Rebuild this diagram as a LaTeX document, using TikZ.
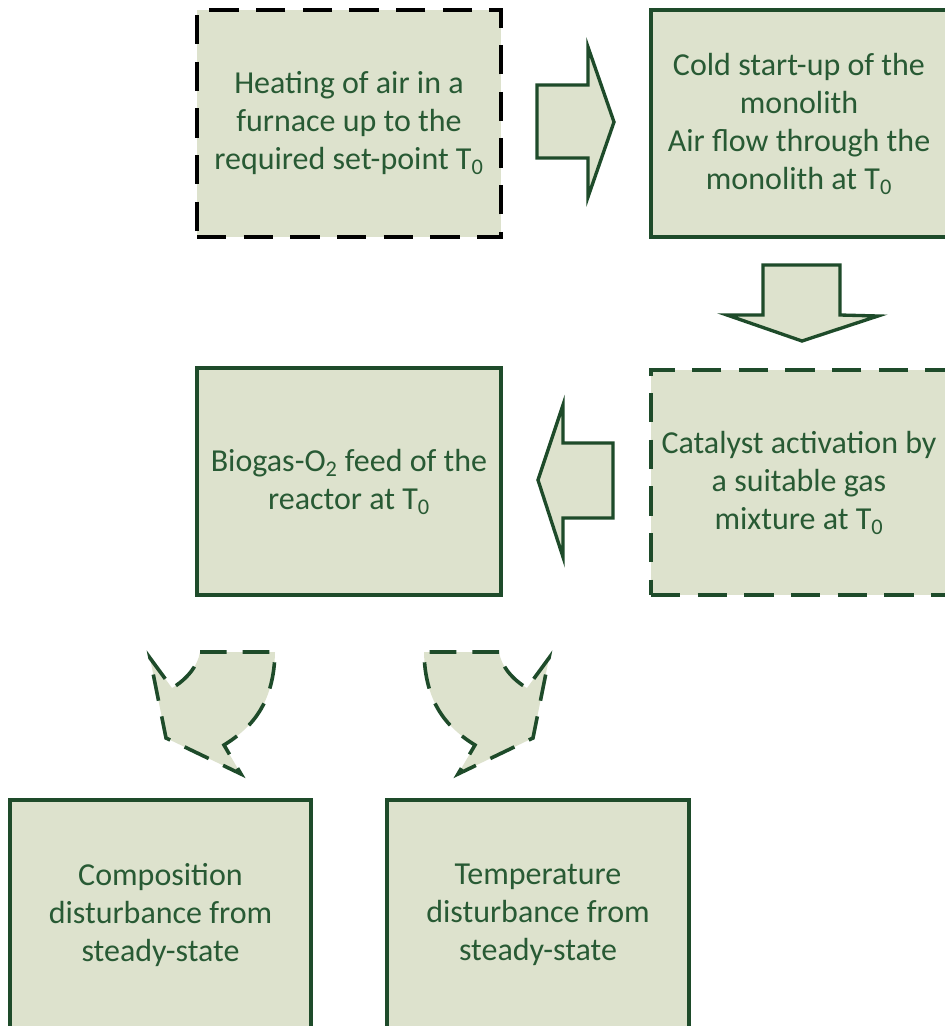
\documentclass[tikz,border=0pt]{standalone}
\usepackage{fontspec}
\setmainfont{Carlito}
\definecolor{boxfill}{RGB}{221,226,205}
\definecolor{boxline}{RGB}{30,75,42}
\definecolor{txt}{RGB}{40,90,52}
\tikzset{
  flowbox/.style={fill=boxfill, draw=boxline, line width=2.7pt, align=center,
    text=txt, font=\fontsize{24}{28.5}\selectfont, inner sep=0pt},
  dashbox/.style={flowbox, dash pattern=on 22pt off 13pt},
  blockarrow/.style={fill=boxfill, draw=boxline, line width=2.5pt, line join=miter},
  curvearrow/.style={fill=boxfill, draw=boxline, line width=2.7pt,
    dash pattern=on 20pt off 12pt, line join=miter}
}
\begin{document}
\begin{tikzpicture}[x=0.75pt,y=-0.75pt]
\useasboundingbox (0,0) rectangle (945,1026);
\clip (0,0) rectangle (945,1026);
\fill[white] (0,0) rectangle (945,1026);

\node[dashbox, draw=black, minimum width=228pt, minimum height=170.25pt] (heat) at (349,123.5)
  {Heating of air in a\\furnace up to the\\required set-point T\textsubscript{0}};
\node[flowbox, minimum width=222pt, minimum height=170.25pt] (cold) at (799,123.5)
  {Cold start-up of the\\monolith\\Air flow through the\\monolith at T\textsubscript{0}};
\node[dashbox, minimum width=222pt, minimum height=168.75pt] (cat) at (799,482.5)
  {Catalyst activation by\\a suitable gas\\mixture at T\textsubscript{0}};
\node[flowbox, minimum width=228pt, minimum height=170.25pt] (bio) at (349,481.5)
  {Biogas-O\textsubscript{2} feed of the\\reactor at T\textsubscript{0}};
\node[flowbox, minimum width=225.75pt, minimum height=172.5pt] (comp) at (160.5,915)
  {Composition\\disturbance from\\steady-state};
\node[flowbox, minimum width=226.5pt, minimum height=172.5pt] (temp) at (538,915)
  {Temperature\\disturbance from\\steady-state};

% block arrows
\draw[blockarrow] (537,85) -- (588,85) -- (588,47) -- (614,122) -- (588,197) -- (588,158) -- (537,158) -- cycle;
\draw[blockarrow] (763,265) -- (840,265) -- (840,315) -- (878,316) -- (802,341) -- (727,315) -- (763,315) -- cycle;
\draw[blockarrow] (613,443) -- (563,443) -- (563,405) -- (538,480) -- (563,557) -- (563,518) -- (613,518) -- cycle;

% curved arrows
\draw[curvearrow] (200,652) -- (275,652) .. controls (274,700) and (255,726) .. (224,745)
  -- (241,774) -- (166,738) -- (150,658) -- (172,688)
  .. controls (186,680) and (198,666) .. (200,652) -- cycle;
\draw[curvearrow] (499,652) -- (424,652) .. controls (425,700) and (444,726) .. (475,745)
  -- (458,774) -- (533,738) -- (549,658) -- (527,688)
  .. controls (513,680) and (501,666) .. (499,652) -- cycle;
\end{tikzpicture}
\end{document}
